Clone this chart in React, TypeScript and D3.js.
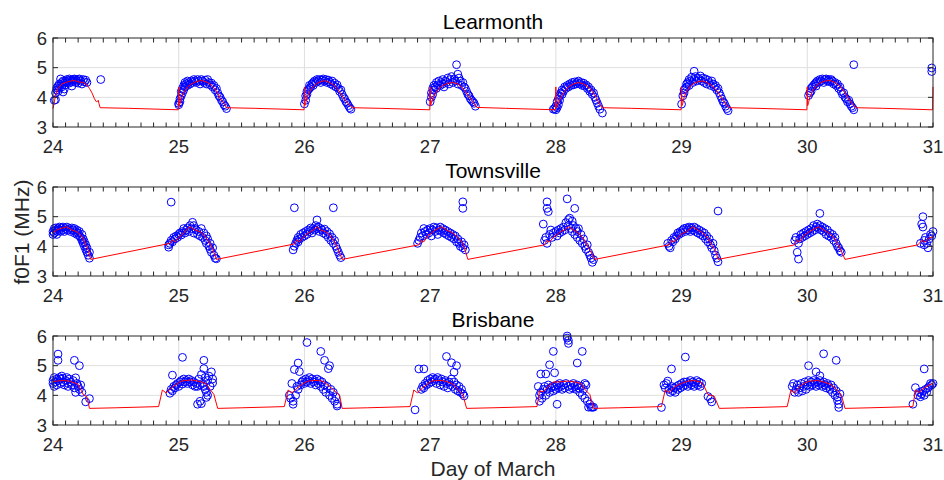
import * as d3 from 'd3';
import React, { useEffect, useRef } from 'react';

type Pt = [number, number];

// day-of-March tick labels and f0F1 ticks
const days = [24, 25, 26, 27, 28, 29, 30, 31];
const yTicks = [3, 4, 5, 6];

// Learmonth observed f0F1 (circles)
const learmonthObs: Pt[] = [
  [24.01,3.9],[24.02,3.92],[24.02,4.15],[24.03,4.25],[24.03,4.32],[24.04,4.2],[24.04,4.38],[24.05,4.3],[24.05,4.45],[24.06,4.4],[24.06,4.62],[24.07,4.5],[24.07,4.35],[24.08,4.55],[24.08,4.18],[24.09,4.48],[24.09,4.28],[24.1,4.55],[24.1,4.42],[24.11,4.6],[24.11,4.5],[24.12,4.56],[24.13,4.62],[24.13,4.48],[24.14,4.58],[24.15,4.52],[24.15,4.38],[24.16,4.6],[24.16,4.55],[24.17,4.62],[24.18,4.5],[24.18,4.6],[24.19,4.55],[24.2,4.6],[24.2,4.48],[24.21,4.62],[24.22,4.55],[24.23,4.45],[24.24,4.6],[24.25,4.52],[24.26,4.58],[24.27,4.5],[24.38,4.6],
  [25.0,3.8],[25.0,3.75],[25.01,3.85],[25.01,3.95],[25.02,4.05],[25.02,4.2],[25.03,4.15],[25.03,4.3],[25.04,4.25],[25.04,4.4],[25.05,4.35],[25.05,4.5],[25.06,4.45],[25.07,4.4],[25.07,4.55],[25.08,4.5],[25.09,4.45],[25.1,4.55],[25.11,4.5],[25.12,4.6],[25.13,4.55],[25.14,4.5],[25.15,4.6],[25.16,4.55],[25.17,4.45],[25.18,4.6],[25.19,4.55],[25.2,4.5],[25.21,4.58],[25.22,4.45],[25.23,4.6],[25.24,4.5],[25.25,4.42],[25.26,4.48],[25.27,4.35],[25.28,4.4],[25.29,4.25],[25.3,4.3],[25.31,4.15],[25.32,4.05],[25.33,4.0],[25.34,3.9],[25.35,3.85],[25.36,3.75],[25.37,3.7],[25.38,3.62],
  [26.0,3.78],[26.01,3.9],[26.01,4.05],[26.02,4.1],[26.02,4.2],[26.03,4.25],[26.04,4.3],[26.04,4.4],[26.05,4.35],[26.06,4.45],[26.07,4.5],[26.07,4.4],[26.08,4.55],[26.09,4.5],[26.1,4.6],[26.11,4.55],[26.12,4.6],[26.13,4.5],[26.14,4.58],[26.15,4.62],[26.16,4.55],[26.17,4.6],[26.18,4.5],[26.19,4.58],[26.2,4.52],[26.21,4.45],[26.22,4.55],[26.23,4.4],[26.24,4.48],[26.25,4.35],[26.26,4.42],[26.27,4.3],[26.28,4.2],[26.29,4.25],[26.3,4.1],[26.31,4.0],[26.32,3.95],[26.33,3.85],[26.34,3.8],[26.35,3.72],[26.36,3.65],[26.37,3.6],
  [27.0,3.85],[27.01,4.0],[27.01,4.15],[27.02,4.1],[27.02,4.3],[27.03,4.25],[27.03,4.4],[27.04,4.35],[27.05,4.5],[27.05,4.3],[27.06,4.42],[27.07,4.55],[27.08,4.4],[27.09,4.5],[27.1,4.45],[27.1,4.6],[27.11,4.35],[27.12,4.55],[27.13,4.5],[27.14,4.65],[27.15,4.45],[27.16,4.6],[27.17,4.7],[27.18,4.5],[27.19,4.62],[27.2,4.55],[27.21,5.1],[27.22,4.78],[27.22,4.45],[27.23,4.65],[27.24,4.55],[27.25,4.4],[27.26,4.5],[27.27,4.35],[27.28,4.3],[27.29,4.2],[27.3,4.1],[27.31,4.05],[27.32,3.95],[27.33,3.9],[27.34,3.85],[27.35,3.8],[27.36,3.7],
  [27.98,3.6],[27.99,3.62],[28.0,3.58],[28.0,3.7],[28.01,3.65],[28.01,3.85],[28.02,3.75],[28.02,3.95],[28.03,4.05],[28.03,3.9],[28.04,4.15],[28.05,4.1],[28.05,4.25],[28.06,4.2],[28.07,4.35],[28.08,4.3],[28.09,4.4],[28.1,4.35],[28.11,4.45],[28.12,4.4],[28.13,4.5],[28.14,4.42],[28.15,4.52],[28.16,4.45],[28.17,4.5],[28.18,4.55],[28.19,4.45],[28.2,4.5],[28.21,4.4],[28.22,4.48],[28.23,4.38],[28.24,4.42],[28.25,4.3],[28.26,4.35],[28.27,4.2],[28.28,4.25],[28.29,4.1],[28.3,4.15],[28.31,4.0],[28.32,3.9],[28.33,3.8],[28.34,3.7],[28.35,3.6],[28.37,3.47],
  [29.0,3.77],[29.01,4.05],[29.02,4.15],[29.02,4.25],[29.03,4.3],[29.04,4.45],[29.04,4.35],[29.05,4.5],[29.06,4.4],[29.06,4.6],[29.07,4.55],[29.08,4.68],[29.09,4.5],[29.1,4.88],[29.1,4.6],[29.11,4.7],[29.12,4.55],[29.13,4.65],[29.14,4.6],[29.15,4.72],[29.16,4.55],[29.17,4.65],[29.18,4.5],[29.19,4.62],[29.2,4.45],[29.21,4.58],[29.22,4.5],[29.23,4.4],[29.24,4.55],[29.25,4.45],[29.26,4.35],[29.27,4.4],[29.28,4.25],[29.29,4.3],[29.3,4.15],[29.31,4.05],[29.32,3.95],[29.33,3.85],[29.34,3.8],[29.35,3.7],[29.36,3.62],[29.37,3.55],
  [30.01,4.06],[30.02,4.15],[30.03,4.2],[30.03,4.3],[30.04,4.35],[30.05,4.4],[30.06,4.45],[30.07,4.5],[30.07,4.38],[30.08,4.55],[30.09,4.5],[30.1,4.6],[30.11,4.55],[30.12,4.62],[30.13,4.5],[30.14,4.6],[30.15,4.62],[30.16,4.55],[30.17,4.6],[30.18,4.52],[30.19,4.6],[30.2,4.55],[30.21,4.45],[30.22,4.5],[30.23,4.4],[30.24,4.45],[30.25,4.3],[30.26,4.35],[30.27,4.2],[30.28,4.1],[30.29,4.15],[30.3,4.0],[30.31,3.95],[30.32,3.85],[30.33,3.9],[30.34,3.78],[30.35,3.7],[30.36,3.65],[30.37,3.58],[30.37,5.1],
  [30.99,4.99],[30.99,4.87],
];

// Learmonth model (red line)
const learmonthModel: Pt[] = [
  [24.0,3.62],[24.02,4.05],[24.04,4.3],[24.07,4.45],[24.1,4.5],[24.14,4.55],[24.17,4.57],[24.2,4.52],[24.24,4.5],[24.27,4.42],[24.29,4.3],[24.31,4.15],[24.33,3.95],[24.345,3.85],[24.355,3.87],[24.36,3.9],[24.365,3.8],[24.375,3.65],[24.6,3.63],
  [24.997,3.58],[25.0,4.35],[25.003,3.72],[25.01,3.78],[25.02,3.95],[25.04,4.15],[25.07,4.35],[25.1,4.45],[25.14,4.53],[25.18,4.57],[25.22,4.52],[25.25,4.45],[25.28,4.32],[25.31,4.15],[25.33,3.95],[25.36,3.8],[25.38,3.65],[25.6,3.63],
  [25.997,3.58],[26.0,4.35],[26.003,3.72],[26.01,3.8],[26.02,3.98],[26.04,4.18],[26.07,4.36],[26.1,4.47],[26.13,4.53],[26.16,4.56],[26.2,4.5],[26.23,4.42],[26.26,4.3],[26.29,4.12],[26.32,3.92],[26.35,3.78],[26.38,3.65],[26.6,3.63],
  [26.997,3.58],[27.0,4.35],[27.003,3.72],[27.01,3.8],[27.02,3.95],[27.04,4.12],[27.07,4.3],[27.1,4.4],[27.14,4.47],[27.18,4.5],[27.22,4.45],[27.25,4.35],[27.28,4.2],[27.31,4.02],[27.34,3.85],[27.37,3.66],[27.6,3.63],
  [27.997,3.58],[28.0,4.35],[28.003,3.65],[28.02,3.8],[28.04,4.0],[28.07,4.2],[28.1,4.35],[28.14,4.45],[28.18,4.5],[28.22,4.45],[28.26,4.35],[28.29,4.2],[28.32,4.0],[28.35,3.75],[28.37,3.65],[28.6,3.63],
  [28.997,3.58],[29.0,4.35],[29.003,3.72],[29.01,3.8],[29.02,4.0],[29.04,4.2],[29.07,4.38],[29.1,4.48],[29.14,4.54],[29.17,4.55],[29.2,4.5],[29.24,4.4],[29.27,4.28],[29.3,4.1],[29.33,3.9],[29.36,3.72],[29.38,3.65],[29.6,3.63],
  [29.997,3.58],[30.0,4.35],[30.003,3.72],[30.01,3.82],[30.02,4.0],[30.04,4.2],[30.07,4.38],[30.1,4.48],[30.14,4.55],[30.18,4.57],[30.22,4.5],[30.25,4.4],[30.28,4.28],[30.31,4.08],[30.34,3.88],[30.37,3.72],[30.39,3.65],[30.6,3.63],
  [30.997,3.58],[31.0,4.35],
];

// Townsville observed f0F1
const townsvilleObs: Pt[] = [
  [24.0,4.4],[24.0,4.5],[24.01,4.6],[24.01,4.45],[24.02,4.55],[24.02,4.62],[24.03,4.5],[24.03,4.4],[24.04,4.6],[24.05,4.55],[24.05,4.65],[24.06,4.5],[24.07,4.62],[24.08,4.55],[24.08,4.65],[24.09,4.5],[24.1,4.6],[24.11,4.65],[24.12,4.55],[24.13,4.6],[24.14,4.5],[24.15,4.62],[24.16,4.55],[24.17,4.45],[24.17,4.6],[24.18,4.5],[24.19,4.4],[24.19,4.55],[24.2,4.45],[24.21,4.35],[24.21,4.5],[24.22,4.3],[24.23,4.2],[24.23,4.4],[24.24,4.1],[24.24,4.25],[24.25,4.0],[24.25,4.15],[24.26,3.9],[24.26,4.05],[24.27,3.8],[24.27,3.95],[24.28,3.7],[24.29,3.6],[24.29,3.8],
  [24.92,3.97],[24.92,4.05],[24.93,4.1],[24.94,5.49],[24.94,4.2],[24.95,4.15],[24.96,4.3],[24.97,4.25],[24.98,4.35],[24.99,4.3],[25.0,4.4],[25.01,4.45],[25.02,4.38],[25.03,4.5],[25.04,4.6],[25.05,4.45],[25.06,4.55],[25.07,4.62],[25.08,4.5],[25.09,4.7],[25.1,4.6],[25.11,4.81],[25.12,4.7],[25.12,4.45],[25.13,4.6],[25.14,4.55],[25.15,4.4],[25.16,4.5],[25.17,4.35],[25.18,4.6],[25.19,4.3],[25.2,4.45],[25.21,4.2],[25.22,4.35],[25.22,4.1],[25.23,4.25],[25.24,4.0],[25.25,4.1],[25.25,3.9],[25.26,3.8],[25.27,3.95],[25.28,3.7],[25.29,3.6],[25.3,3.58],
  [25.91,3.88],[25.92,5.3],[25.92,4.0],[25.93,4.1],[25.94,4.2],[25.95,4.3],[25.95,4.15],[25.96,4.25],[25.97,4.4],[25.98,4.3],[25.99,4.45],[26.0,4.35],[26.01,4.5],[26.02,4.4],[26.03,4.55],[26.04,4.5],[26.05,4.62],[26.06,4.45],[26.07,4.6],[26.08,4.55],[26.09,4.7],[26.1,4.89],[26.1,4.6],[26.11,4.65],[26.12,4.5],[26.13,4.6],[26.14,4.55],[26.15,4.45],[26.16,4.58],[26.17,4.4],[26.18,4.5],[26.19,4.3],[26.2,4.42],[26.21,4.2],[26.22,4.3],[26.23,5.3],[26.23,4.1],[26.24,4.2],[26.25,4.0],[26.26,3.9],[26.27,3.8],[26.28,3.7],[26.29,3.62],
  [26.9,4.1],[26.91,4.2],[26.92,4.3],[26.93,4.45],[26.94,4.35],[26.95,4.6],[26.96,4.5],[26.97,4.4],[26.98,4.55],[26.99,4.45],[27.0,4.6],[27.01,4.35],[27.02,4.55],[27.03,4.65],[27.04,4.5],[27.05,4.62],[27.06,4.4],[27.07,4.55],[27.08,4.65],[27.09,4.5],[27.1,4.6],[27.11,4.45],[27.12,4.55],[27.13,4.4],[27.14,4.5],[27.15,4.35],[27.16,4.45],[27.17,4.3],[27.18,4.4],[27.19,4.25],[27.2,4.35],[27.21,4.15],[27.22,4.25],[27.23,4.1],[27.24,4.0],[27.25,4.15],[27.26,5.5],[27.26,5.28],[27.26,3.95],[27.27,4.05],[27.28,3.88],
  [27.9,4.75],[27.91,4.2],[27.92,4.3],[27.93,5.5],[27.93,5.28],[27.94,5.17],[27.93,4.1],[27.95,4.4],[27.96,4.55],[27.97,4.3],[27.98,4.45],[28.0,4.5],[28.01,4.35],[28.02,4.55],[28.03,4.45],[28.04,4.6],[28.05,4.5],[28.06,4.65],[28.07,4.55],[28.08,4.8],[28.09,5.6],[28.1,4.9],[28.1,4.7],[28.11,4.95],[28.12,4.6],[28.13,4.85],[28.13,4.5],[28.14,4.7],[28.15,5.28],[28.15,4.4],[28.16,4.6],[28.17,4.3],[28.17,4.5],[28.18,4.6],[28.19,4.2],[28.2,4.4],[28.21,4.1],[28.22,4.25],[28.23,4.0],[28.24,3.9],[28.25,4.05],[28.26,3.8],[28.27,3.7],[28.28,3.6],[28.29,3.46],[28.3,3.55],
  [28.89,4.1],[28.9,4.0],[28.91,3.95],[28.92,4.2],[28.93,4.15],[28.94,4.3],[28.95,4.25],[28.96,4.35],[28.97,4.45],[28.98,4.4],[28.99,4.5],[29.0,4.45],[29.01,4.55],[29.02,4.6],[29.03,4.5],[29.04,4.62],[29.05,4.55],[29.06,4.65],[29.07,4.5],[29.08,4.62],[29.09,4.55],[29.1,4.65],[29.11,4.5],[29.12,4.6],[29.13,4.45],[29.14,4.55],[29.15,4.4],[29.16,4.5],[29.17,4.35],[29.18,4.45],[29.19,4.25],[29.2,4.35],[29.21,4.15],[29.22,4.25],[29.23,4.05],[29.24,3.95],[29.25,4.1],[29.26,3.85],[29.27,3.7],[29.28,3.6],[29.29,3.48],[29.29,5.19],
  [29.9,4.2],[29.91,4.3],[29.92,3.8],[29.93,3.57],[29.93,4.1],[29.94,4.25],[29.95,4.4],[29.96,4.3],[29.97,4.45],[29.98,4.35],[29.99,4.5],[30.0,4.4],[30.01,4.55],[30.02,4.45],[30.03,4.6],[30.04,4.5],[30.05,4.7],[30.06,4.55],[30.07,4.65],[30.08,4.75],[30.09,4.6],[30.1,5.11],[30.1,4.7],[30.11,4.55],[30.12,4.65],[30.13,4.5],[30.14,4.6],[30.15,4.4],[30.16,4.55],[30.17,4.35],[30.18,4.45],[30.19,4.3],[30.2,4.4],[30.21,4.2],[30.22,4.3],[30.23,4.1],[30.24,4.0],[30.25,3.95],[30.26,3.85],[30.27,3.8],
  [30.9,4.1],[30.91,4.75],[30.92,5.0],[30.92,4.65],[30.93,4.2],[30.93,4.05],[30.94,4.3],[30.95,4.1],[30.96,3.95],[30.97,4.25],[30.98,4.4],[30.99,4.35],[31.0,4.5],
];

// Townsville model
const townsvilleModel: Pt[] = [
  [24.0,4.46],[24.03,4.55],[24.06,4.6],[24.11,4.66],[24.15,4.55],[24.19,4.49],[24.22,4.38],[24.24,4.27],[24.26,4.05],[24.28,3.88],[24.3,3.56],
  [24.93,4.1],[24.95,4.22],[24.97,4.15],[25.0,4.3],[25.03,4.4],[25.06,4.55],[25.09,4.66],[25.13,4.55],[25.17,4.49],[25.2,4.38],[25.24,4.16],[25.27,3.9],[25.3,3.56],
  [25.92,4.08],[25.94,4.22],[25.96,4.15],[25.99,4.3],[26.02,4.42],[26.05,4.5],[26.07,4.55],[26.1,4.66],[26.13,4.55],[26.17,4.49],[26.2,4.38],[26.24,4.16],[26.27,3.88],[26.3,3.56],
  [26.91,4.05],[26.93,4.2],[26.95,4.15],[26.98,4.35],[27.01,4.45],[27.04,4.55],[27.09,4.66],[27.13,4.55],[27.18,4.45],[27.22,4.3],[27.26,4.1],[27.28,3.85],[27.3,3.56],
  [27.91,4.05],[27.93,4.2],[27.95,4.15],[27.98,4.3],[28.01,4.4],[28.04,4.5],[28.07,4.55],[28.1,4.66],[28.14,4.55],[28.18,4.45],[28.22,4.25],[28.26,3.95],[28.28,3.8],[28.31,3.56],
  [28.9,4.05],[28.92,4.2],[28.94,4.15],[28.97,4.3],[29.0,4.42],[29.04,4.5],[29.09,4.66],[29.13,4.55],[29.17,4.45],[29.21,4.28],[29.24,4.05],[29.27,3.85],[29.29,3.56],
  [29.9,4.05],[29.92,4.22],[29.94,4.15],[29.97,4.35],[30.0,4.45],[30.04,4.55],[30.09,4.66],[30.13,4.55],[30.17,4.45],[30.21,4.3],[30.24,4.1],[30.27,3.85],[30.3,3.56],
  [30.88,4.05],[30.91,4.2],[30.94,4.15],[30.97,4.28],[31.0,4.32],
];

// Brisbane observed f0F1
const brisbaneObs: Pt[] = [
  [24.0,4.4],[24.0,4.5],[24.01,4.3],[24.01,4.6],[24.02,4.45],[24.03,4.55],[24.03,4.35],[24.04,5.39],[24.04,5.18],[24.04,4.5],[24.05,4.6],[24.06,4.4],[24.06,4.55],[24.07,4.65],[24.08,4.45],[24.08,4.58],[24.09,4.35],[24.1,4.5],[24.11,4.6],[24.12,4.4],[24.12,4.3],[24.13,4.55],[24.14,4.45],[24.15,4.35],[24.16,4.5],[24.17,5.18],[24.17,4.25],[24.18,4.59],[24.18,4.1],[24.19,4.4],[24.2,4.3],[24.21,5.0],[24.21,4.2],[24.22,4.35],[24.23,4.1],[24.26,3.78],[24.29,3.89],
  [24.93,4.07],[24.94,4.2],[24.95,4.68],[24.95,4.15],[24.96,4.3],[24.97,4.25],[24.98,4.35],[24.99,4.4],[25.0,4.3],[25.01,4.45],[25.02,4.5],[25.03,5.28],[25.03,4.38],[25.04,4.55],[25.05,4.45],[25.06,4.5],[25.07,4.4],[25.08,4.55],[25.09,4.45],[25.1,4.5],[25.11,4.35],[25.12,4.45],[25.13,4.3],[25.14,4.4],[25.15,3.7],[25.15,4.3],[25.16,4.55],[25.17,3.8],[25.17,4.35],[25.18,4.7],[25.18,3.72],[25.19,4.4],[25.2,5.18],[25.2,4.9],[25.2,4.3],[25.21,4.6],[25.21,4.2],[25.22,3.93],[25.22,4.1],[25.23,4.5],[25.23,4.0],[25.24,4.65],[25.25,4.3],[25.26,4.79],[25.27,4.42],[25.27,4.55],
  [25.88,4.0],[25.89,3.9],[25.9,4.4],[25.91,3.7],[25.91,3.8],[25.92,4.87],[25.93,4.0],[25.94,4.3],[25.95,5.09],[25.95,4.2],[25.96,4.8],[25.97,4.35],[25.98,4.45],[25.99,4.5],[26.0,4.4],[26.01,4.55],[26.02,5.78],[26.02,4.45],[26.03,4.5],[26.04,4.6],[26.05,4.4],[26.06,4.55],[26.07,4.45],[26.08,4.5],[26.09,4.35],[26.1,4.55],[26.11,4.4],[26.12,4.5],[26.13,5.48],[26.13,4.3],[26.14,4.45],[26.15,4.2],[26.16,5.18],[26.16,4.35],[26.17,4.1],[26.18,4.3],[26.19,4.9],[26.2,5.0],[26.2,4.0],[26.21,4.2],[26.22,3.9],[26.23,4.1],[26.24,3.8],[26.25,3.95],[26.26,3.7],[26.26,3.64],
  [26.88,3.51],[26.91,4.89],[26.93,4.2],[26.94,4.3],[26.95,4.89],[26.95,4.25],[26.96,4.4],[26.97,4.35],[26.98,4.5],[26.99,4.4],[27.0,4.55],[27.01,4.45],[27.02,4.6],[27.03,4.5],[27.04,4.55],[27.05,4.4],[27.06,4.6],[27.07,4.5],[27.08,4.35],[27.09,4.55],[27.1,4.45],[27.11,4.3],[27.12,4.5],[27.13,5.31],[27.13,4.4],[27.14,4.25],[27.15,4.45],[27.16,4.35],[27.17,5.1],[27.17,4.55],[27.18,4.3],[27.19,4.78],[27.19,4.45],[27.2,4.2],[27.21,5.0],[27.21,4.35],[27.22,4.15],[27.23,4.3],[27.24,4.1],[27.25,4.2],[27.26,4.05],[27.27,3.98],
  [27.86,4.3],[27.87,4.0],[27.87,3.8],[27.88,4.72],[27.88,4.1],[27.89,3.9],[27.9,4.2],[27.91,4.3],[27.92,4.72],[27.92,4.0],[27.93,4.2],[27.94,4.35],[27.95,5.03],[27.95,4.1],[27.96,4.25],[27.97,4.3],[27.98,5.48],[27.98,4.15],[27.99,4.76],[27.99,4.3],[28.0,4.2],[28.01,3.7],[28.01,4.35],[28.02,4.25],[28.03,4.4],[28.04,4.3],[28.05,4.2],[28.06,4.35],[28.07,4.25],[28.08,4.4],[28.09,6.0],[28.09,5.93],[28.1,5.85],[28.1,5.75],[28.1,4.3],[28.11,4.2],[28.12,4.35],[28.13,4.25],[28.14,4.4],[28.15,4.3],[28.16,4.2],[28.17,5.09],[28.17,4.35],[28.18,4.25],[28.19,4.1],[28.2,4.3],[28.21,5.48],[28.21,4.0],[28.22,4.2],[28.23,4.4],[28.23,3.9],[28.24,4.35],[28.25,3.8],[28.26,3.6],[28.27,3.7],[28.28,3.6],[28.29,3.6],[28.3,3.6],
  [28.84,3.59],[28.86,4.35],[28.87,4.25],[28.88,4.4],[28.89,4.48],[28.9,4.2],[28.91,4.1],[28.92,4.89],[28.92,4.3],[28.93,4.15],[28.94,4.25],[28.95,4.1],[28.96,4.3],[28.97,4.2],[28.98,4.35],[28.99,4.25],[29.0,4.4],[29.01,4.3],[29.02,4.45],[29.03,5.29],[29.03,4.35],[29.04,4.45],[29.05,4.3],[29.06,4.4],[29.07,4.5],[29.08,4.35],[29.09,4.45],[29.1,4.3],[29.11,4.4],[29.12,4.5],[29.13,4.35],[29.14,4.45],[29.15,4.3],[29.16,4.4],[29.21,3.96],[29.23,3.88],[29.24,3.78],
  [29.88,4.3],[29.89,4.4],[29.9,4.1],[29.91,4.2],[29.92,4.35],[29.93,4.1],[29.94,4.25],[29.95,4.4],[29.96,4.15],[29.97,4.3],[29.98,4.45],[29.99,4.2],[30.0,4.35],[30.01,5.0],[30.01,4.5],[30.02,4.3],[30.03,4.45],[30.04,4.35],[30.05,4.5],[30.06,4.4],[30.07,4.79],[30.07,4.3],[30.08,4.45],[30.09,4.35],[30.1,4.66],[30.1,4.5],[30.11,4.4],[30.12,4.3],[30.13,5.4],[30.13,4.45],[30.14,4.35],[30.15,4.25],[30.16,4.4],[30.17,4.3],[30.18,4.2],[30.19,4.35],[30.2,4.1],[30.21,4.25],[30.22,4.0],[30.23,5.18],[30.23,4.15],[30.24,3.94],[30.24,3.83],[30.25,3.7],[30.25,3.59],[30.26,4.05],
  [30.84,3.7],[30.86,4.26],[30.88,4.0],[30.89,4.1],[30.9,3.95],[30.91,4.05],[30.92,4.15],[30.93,4.89],[30.93,4.0],[30.94,4.2],[30.95,4.1],[30.96,4.25],[30.97,4.3],[30.98,4.4],[30.99,4.35],[31.0,4.4],
];

// Brisbane model
const brisbaneModel: Pt[] = [
  [24.0,4.46],[24.03,4.48],[24.08,4.5],[24.13,4.48],[24.17,4.42],[24.2,4.37],[24.22,4.2],[24.24,4.03],[24.27,3.95],[24.29,3.56],[24.5,3.58],[24.84,3.62],
  [24.87,4.18],[24.9,4.08],[24.93,4.2],[24.96,4.31],[25.0,4.42],[25.02,4.48],[25.06,4.5],[25.1,4.52],[25.14,4.49],[25.18,4.45],[25.22,4.38],[25.25,4.2],[25.28,4.03],[25.31,3.56],[25.5,3.58],[25.84,3.62],
  [25.87,4.18],[25.9,4.08],[25.93,4.2],[25.96,4.31],[26.0,4.42],[26.03,4.48],[26.07,4.5],[26.11,4.5],[26.15,4.47],[26.2,4.3],[26.24,4.15],[26.28,4.0],[26.3,3.56],[26.5,3.58],[26.84,3.62],
  [26.87,4.18],[26.9,4.08],[26.93,4.22],[26.97,4.35],[27.01,4.48],[27.06,4.5],[27.1,4.5],[27.14,4.45],[27.18,4.38],[27.22,4.2],[27.26,4.03],[27.29,3.56],[27.5,3.58],[27.85,3.62],
  [27.87,4.15],[27.9,4.12],[27.94,4.3],[27.98,4.45],[28.02,4.45],[28.06,4.47],[28.1,4.48],[28.15,4.45],[28.2,4.4],[28.23,4.2],[28.27,4.03],[28.3,3.56],[28.5,3.58],[28.84,3.62],
  [28.87,4.18],[28.9,4.1],[28.95,4.3],[29.0,4.4],[29.05,4.48],[29.1,4.5],[29.15,4.45],[29.18,4.3],[29.21,4.03],[29.26,3.97],[29.3,3.56],[29.5,3.58],[29.84,3.62],
  [29.87,4.18],[29.9,4.08],[29.94,4.3],[29.98,4.42],[30.02,4.48],[30.08,4.5],[30.13,4.45],[30.18,4.38],[30.22,4.25],[30.27,4.03],[30.3,3.56],[30.5,3.58],[30.84,3.62],
  [30.86,4.18],[30.89,4.1],[30.93,4.25],[30.97,4.35],[31.0,4.4],
];

const panels = [
  { title: 'Learmonth', obs: learmonthObs, model: learmonthModel, top: 38 },
  { title: 'Townsville', obs: townsvilleObs, model: townsvilleModel, top: 187 },
  { title: 'Brisbane', obs: brisbaneObs, model: brisbaneModel, top: 336 },
];

const width = 944;
const height = 480;
const plotLeft = 53;
const plotRight = 933;
const plotHeight = 89;
const axisColor = '#262626';
const font = '"Liberation Sans", Arial, Helvetica, sans-serif';

export default function App() {
  const svgRef = useRef<SVGSVGElement | null>(null);

  useEffect(() => {
    if (!svgRef.current) return;
    const svg = d3.select(svgRef.current);
    svg.selectAll('*').remove();

    const x = d3.scaleLinear().domain([24, 31]).range([plotLeft, plotRight]);
    const minorTicks = d3.range(240, 311).map(d => d / 10);

    panels.forEach(p => {
      const y = d3.scaleLinear().domain([3, 6]).range([p.top + plotHeight, p.top]);
      const g = svg.append('g');
      const bottom = p.top + plotHeight;

      // grid
      g.append('g').selectAll('line')
        .data(days.slice(1, -1))
        .join('line')
        .attr('x1', d => x(d)).attr('x2', d => x(d))
        .attr('y1', p.top).attr('y2', bottom)
        .attr('stroke', '#dedede').attr('stroke-width', 1);
      g.append('g').selectAll('line')
        .data(yTicks.slice(1, -1))
        .join('line')
        .attr('x1', plotLeft).attr('x2', plotRight)
        .attr('y1', d => y(d)).attr('y2', d => y(d))
        .attr('stroke', '#dedede').attr('stroke-width', 1);

      // observations
      g.append('g').selectAll('circle')
        .data(p.obs)
        .join('circle')
        .attr('cx', d => x(d[0])).attr('cy', d => y(d[1]))
        .attr('r', 3.9)
        .attr('fill', 'none')
        .attr('stroke', '#0000ff')
        .attr('stroke-width', 1);

      // model line on top
      const line = d3.line<Pt>().x(d => x(d[0])).y(d => y(d[1]));
      g.append('path')
        .datum(p.model)
        .attr('d', line)
        .attr('fill', 'none')
        .attr('stroke', '#ff0000')
        .attr('stroke-width', 1);

      // box
      g.append('rect')
        .attr('x', plotLeft).attr('y', p.top)
        .attr('width', plotRight - plotLeft).attr('height', plotHeight)
        .attr('fill', 'none').attr('stroke', axisColor).attr('stroke-width', 1);

      // ticks point inward, on all four sides
      const tk = g.append('g').attr('stroke', axisColor).attr('stroke-width', 1);
      minorTicks.forEach(t => {
        tk.append('line').attr('x1', x(t)).attr('x2', x(t)).attr('y1', bottom).attr('y2', bottom - 4.5);
        tk.append('line').attr('x1', x(t)).attr('x2', x(t)).attr('y1', p.top).attr('y2', p.top + 4.5);
      });
      yTicks.forEach(t => {
        tk.append('line').attr('x1', plotLeft).attr('x2', plotLeft + 5).attr('y1', y(t)).attr('y2', y(t));
        tk.append('line').attr('x1', plotRight).attr('x2', plotRight - 5).attr('y1', y(t)).attr('y2', y(t));
      });

      // tick labels
      g.append('g').selectAll('text')
        .data(days)
        .join('text')
        .attr('x', d => x(d)).attr('y', bottom + 25.5)
        .attr('text-anchor', 'middle')
        .attr('font-family', font).attr('font-size', 18.5)
        .attr('fill', axisColor)
        .text(d => d);
      g.append('g').selectAll('text')
        .data(yTicks)
        .join('text')
        .attr('x', plotLeft - 6).attr('y', d => y(d))
        .attr('dy', '0.36em')
        .attr('text-anchor', 'end')
        .attr('font-family', font).attr('font-size', 18.5)
        .attr('fill', axisColor)
        .text(d => d);

      g.append('text')
        .attr('x', (plotLeft + plotRight) / 2).attr('y', p.top - 9.5)
        .attr('text-anchor', 'middle')
        .attr('font-family', font).attr('font-size', 21)
        .attr('fill', '#000')
        .text(p.title);
    });

    svg.append('text')
      .attr('transform', 'translate(29,232) rotate(-90)')
      .attr('text-anchor', 'middle')
      .attr('font-family', font).attr('font-size', 21)
      .attr('fill', axisColor)
      .text('f0F1 (MHz)');

    svg.append('text')
      .attr('x', (plotLeft + plotRight) / 2).attr('y', 476)
      .attr('text-anchor', 'middle')
      .attr('font-family', font).attr('font-size', 21)
      .attr('fill', axisColor)
      .text('Day of March');
  }, []);

  return (
    <svg
      ref={svgRef}
      width={width}
      height={height}
      style={{ position: 'absolute', left: 0, top: 0, background: '#fff' }}
    />
  );
}
